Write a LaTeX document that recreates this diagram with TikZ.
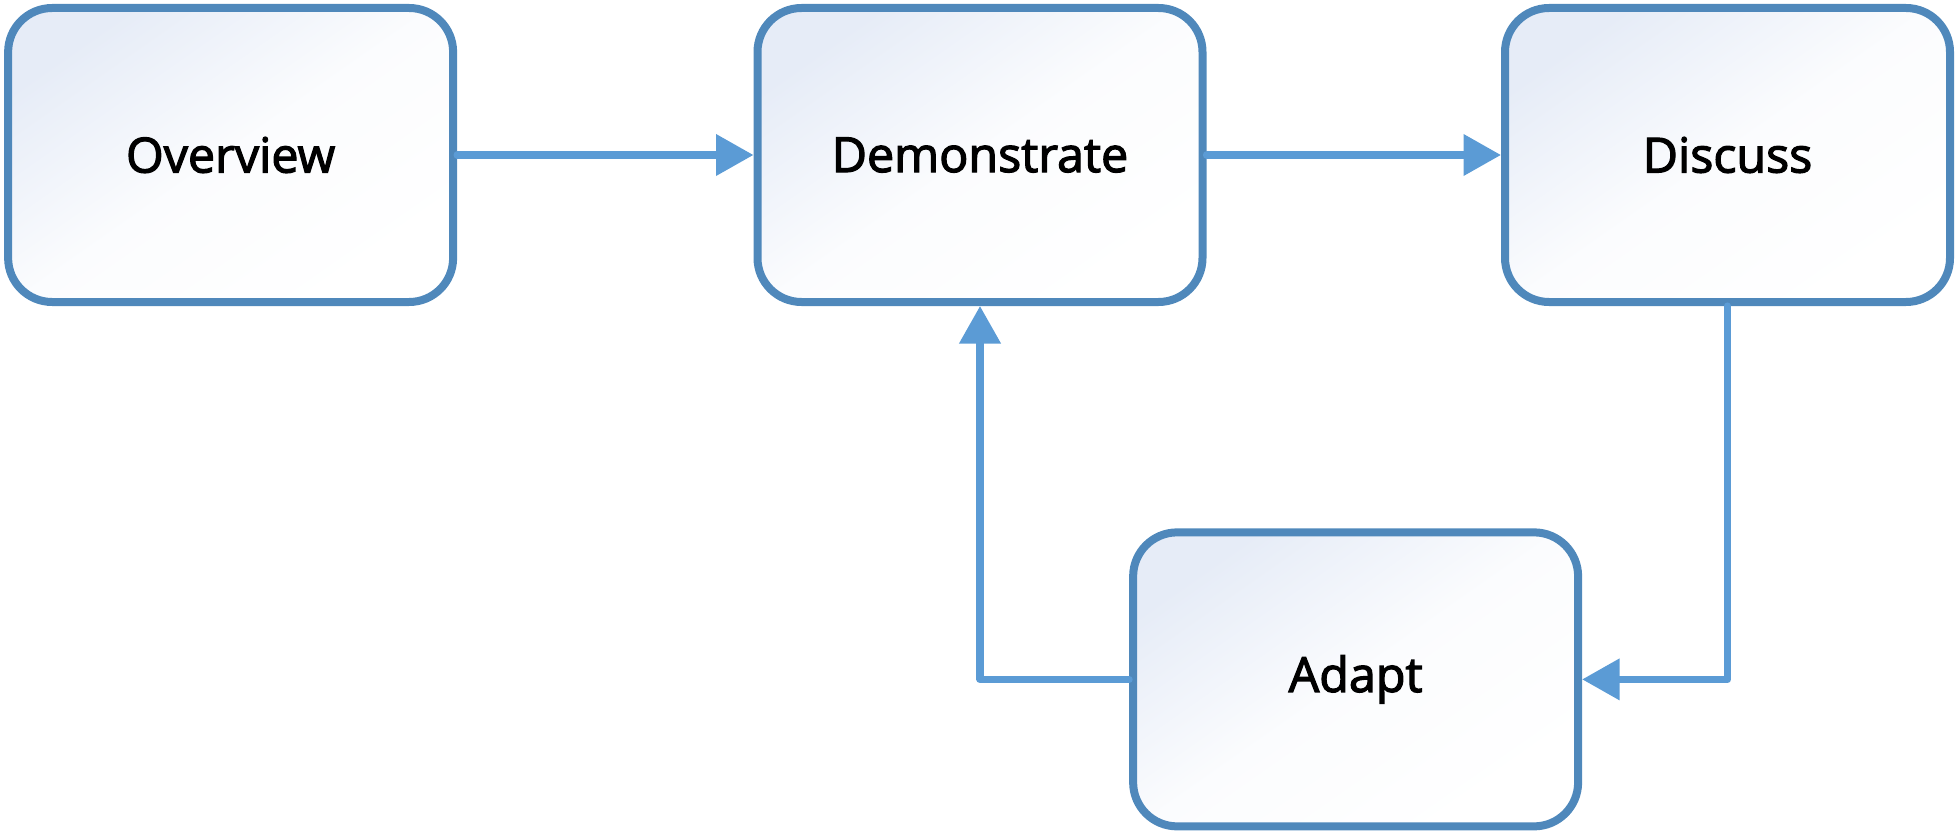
\documentclass[tikz,border=0pt]{standalone}
\usepackage{fontspec}
\setmainfont{Open Sans}
\newfontfamily\labelfont{Open Sans}[BoldFont={Open Sans},BoldFeatures={FakeBold=2.5}]
\usetikzlibrary{arrows.meta,shadings}
\definecolor{boxline}{HTML}{4F88BB}
\definecolor{arrowline}{HTML}{5B9BD5}
\definecolor{boxfill}{HTML}{E6ECF7}
\tikzset{
  stage/.style={draw=boxline, line width=4pt, rounded corners=22pt,
    minimum width=222.5pt, minimum height=147pt, inner sep=0pt,
    top color=boxfill, bottom color=white, middle color=white!85!boxfill, shading angle=35,
    font=\labelfont\bfseries\fontsize{24.2}{29}\selectfont, text=black},
  flow/.style={draw=arrowline, line width=3.6pt, line cap=round, line join=round,
    -{Triangle[length=18.75pt,width=20pt]}}
}
\begin{document}
\begin{tikzpicture}[x=0.625pt,y=-0.625pt]
\useasboundingbox (0,0) rectangle (1567.2,667.2);
\node[stage] (ov) at (184.5,124) {Overview};
\node[stage] (de) at (784,124) {Demonstrate};
\node[stage] (di) at (1382,124) {Discuss};
\node[stage] (ad) at (1084.5,543.5) {Adapt};
\draw[flow] (ov.east) -- (de.west);
\draw[flow] (de.east) -- (di.west);
\draw[flow] (di.south) |- (ad.east);
\draw[flow] (ad.west) -| (de.south);
\end{tikzpicture}
\end{document}
